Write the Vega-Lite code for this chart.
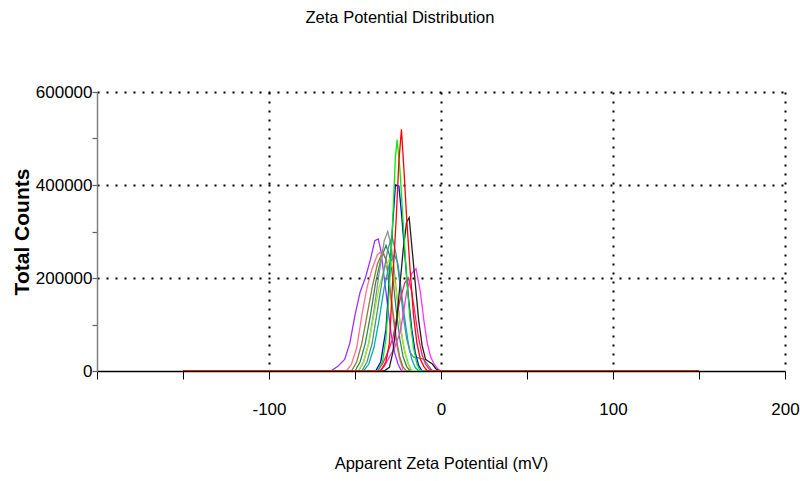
{
  "$schema": "https://vega.github.io/schema/vega-lite/v6.json",
  "width": 688,
  "height": 279,
  "autosize": {"type": "none"},
  "padding": {"left": 97, "top": 92, "right": 15, "bottom": 110},
  "background": "white",
  "title": {"text": "Zeta Potential Distribution", "font": "Liberation Sans", "fontSize": 16.5, "fontWeight": "normal", "color": "#000", "offset": 57, "anchor": "middle", "dx": -41},
  "config": {"view": {"stroke": null}},
  "data": {"values": [
    {"s":"violet","x":-150,"y":0},{"s":"violet","x":-64,"y":0},{"s":"violet","x":-60,"y":10000},{"s":"violet","x":-56,"y":25000},{"s":"violet","x":-53,"y":60000},{"s":"violet","x":-50,"y":120000},{"s":"violet","x":-47,"y":170000},{"s":"violet","x":-44,"y":200000},{"s":"violet","x":-41,"y":240000},{"s":"violet","x":-38.5,"y":280000},{"s":"violet","x":-36.5,"y":284000},{"s":"violet","x":-35,"y":260000},{"s":"violet","x":-33,"y":200000},{"s":"violet","x":-31,"y":140000},{"s":"violet","x":-29,"y":80000},{"s":"violet","x":-27,"y":40000},{"s":"violet","x":-25,"y":15000},{"s":"violet","x":-23,"y":0},{"s":"violet","x":150,"y":0},
    {"s":"salmon","x":-150,"y":0},{"s":"salmon","x":-55,"y":0},{"s":"salmon","x":-52,"y":15000},{"s":"salmon","x":-49,"y":50000},{"s":"salmon","x":-46,"y":120000},{"s":"salmon","x":-43,"y":180000},{"s":"salmon","x":-40,"y":220000},{"s":"salmon","x":-37,"y":250000},{"s":"salmon","x":-34,"y":260000},{"s":"salmon","x":-32,"y":240000},{"s":"salmon","x":-30,"y":180000},{"s":"salmon","x":-28,"y":120000},{"s":"salmon","x":-26,"y":60000},{"s":"salmon","x":-24,"y":25000},{"s":"salmon","x":-22,"y":0},{"s":"salmon","x":150,"y":0},
    {"s":"darkgreen","x":-150,"y":0},{"s":"darkgreen","x":-50,"y":0},{"s":"darkgreen","x":-47,"y":20000},{"s":"darkgreen","x":-44,"y":60000},{"s":"darkgreen","x":-41,"y":120000},{"s":"darkgreen","x":-38,"y":190000},{"s":"darkgreen","x":-35,"y":240000},{"s":"darkgreen","x":-32,"y":270000},{"s":"darkgreen","x":-30,"y":250000},{"s":"darkgreen","x":-28,"y":200000},{"s":"darkgreen","x":-26,"y":130000},{"s":"darkgreen","x":-24,"y":70000},{"s":"darkgreen","x":-22,"y":30000},{"s":"darkgreen","x":-20,"y":10000},{"s":"darkgreen","x":-18,"y":0},{"s":"darkgreen","x":150,"y":0},
    {"s":"olive","x":-150,"y":0},{"s":"olive","x":-52,"y":0},{"s":"olive","x":-49,"y":20000},{"s":"olive","x":-46,"y":60000},{"s":"olive","x":-43,"y":120000},{"s":"olive","x":-40,"y":180000},{"s":"olive","x":-37,"y":230000},{"s":"olive","x":-34,"y":255000},{"s":"olive","x":-32,"y":240000},{"s":"olive","x":-30,"y":190000},{"s":"olive","x":-28,"y":130000},{"s":"olive","x":-26,"y":70000},{"s":"olive","x":-24,"y":30000},{"s":"olive","x":-22,"y":8000},{"s":"olive","x":-20,"y":0},{"s":"olive","x":150,"y":0},
    {"s":"grey","x":-150,"y":0},{"s":"grey","x":-48,"y":0},{"s":"grey","x":-45,"y":20000},{"s":"grey","x":-42,"y":60000},{"s":"grey","x":-39,"y":130000},{"s":"grey","x":-36,"y":210000},{"s":"grey","x":-33,"y":280000},{"s":"grey","x":-31,"y":300000},{"s":"grey","x":-29,"y":270000},{"s":"grey","x":-27,"y":210000},{"s":"grey","x":-25,"y":140000},{"s":"grey","x":-23,"y":80000},{"s":"grey","x":-21,"y":40000},{"s":"grey","x":-19,"y":15000},{"s":"grey","x":-17,"y":0},{"s":"grey","x":150,"y":0},
    {"s":"yellowgreen","x":-150,"y":0},{"s":"yellowgreen","x":-48,"y":0},{"s":"yellowgreen","x":-45,"y":20000},{"s":"yellowgreen","x":-42,"y":60000},{"s":"yellowgreen","x":-39,"y":120000},{"s":"yellowgreen","x":-36,"y":180000},{"s":"yellowgreen","x":-33,"y":220000},{"s":"yellowgreen","x":-30,"y":240000},{"s":"yellowgreen","x":-28,"y":220000},{"s":"yellowgreen","x":-26,"y":170000},{"s":"yellowgreen","x":-24,"y":110000},{"s":"yellowgreen","x":-22,"y":60000},{"s":"yellowgreen","x":-20,"y":25000},{"s":"yellowgreen","x":-18,"y":5000},{"s":"yellowgreen","x":-16,"y":0},{"s":"yellowgreen","x":150,"y":0},
    {"s":"cyan","x":-150,"y":0},{"s":"cyan","x":-45,"y":0},{"s":"cyan","x":-42,"y":15000},{"s":"cyan","x":-39,"y":50000},{"s":"cyan","x":-36,"y":110000},{"s":"cyan","x":-33,"y":180000},{"s":"cyan","x":-30,"y":230000},{"s":"cyan","x":-27,"y":250000},{"s":"cyan","x":-25,"y":230000},{"s":"cyan","x":-23,"y":170000},{"s":"cyan","x":-21,"y":110000},{"s":"cyan","x":-19,"y":60000},{"s":"cyan","x":-17,"y":25000},{"s":"cyan","x":-15,"y":8000},{"s":"cyan","x":-13,"y":0},{"s":"cyan","x":150,"y":0},
    {"s":"slate","x":-150,"y":0},{"s":"slate","x":-46,"y":0},{"s":"slate","x":-43,"y":20000},{"s":"slate","x":-40,"y":60000},{"s":"slate","x":-37,"y":130000},{"s":"slate","x":-34,"y":200000},{"s":"slate","x":-31,"y":260000},{"s":"slate","x":-28.5,"y":290000},{"s":"slate","x":-26,"y":250000},{"s":"slate","x":-24,"y":190000},{"s":"slate","x":-22,"y":120000},{"s":"slate","x":-20,"y":70000},{"s":"slate","x":-18,"y":40000},{"s":"slate","x":-16,"y":30000},{"s":"slate","x":-13,"y":28000},{"s":"slate","x":-10,"y":25000},{"s":"slate","x":-7,"y":10000},{"s":"slate","x":-5,"y":0},{"s":"slate","x":150,"y":0},
    {"s":"blue","x":-150,"y":0},{"s":"blue","x":-38,"y":0},{"s":"blue","x":-35,"y":20000},{"s":"blue","x":-32,"y":90000},{"s":"blue","x":-30,"y":200000},{"s":"blue","x":-28,"y":320000},{"s":"blue","x":-26.5,"y":400000},{"s":"blue","x":-24.5,"y":398000},{"s":"blue","x":-23,"y":340000},{"s":"blue","x":-21,"y":250000},{"s":"blue","x":-19,"y":160000},{"s":"blue","x":-17,"y":90000},{"s":"blue","x":-15,"y":40000},{"s":"blue","x":-13,"y":12000},{"s":"blue","x":-11,"y":0},{"s":"blue","x":150,"y":0},
    {"s":"crimson","x":-150,"y":0},{"s":"crimson","x":-37,"y":0},{"s":"crimson","x":-34,"y":15000},{"s":"crimson","x":-31,"y":40000},{"s":"crimson","x":-28,"y":70000},{"s":"crimson","x":-26,"y":110000},{"s":"crimson","x":-24,"y":150000},{"s":"crimson","x":-21,"y":190000},{"s":"crimson","x":-19,"y":200000},{"s":"crimson","x":-17,"y":170000},{"s":"crimson","x":-15,"y":120000},{"s":"crimson","x":-13,"y":70000},{"s":"crimson","x":-11,"y":35000},{"s":"crimson","x":-9,"y":15000},{"s":"crimson","x":-7,"y":5000},{"s":"crimson","x":-5,"y":0},{"s":"crimson","x":150,"y":0},
    {"s":"magenta","x":-150,"y":0},{"s":"magenta","x":-36,"y":0},{"s":"magenta","x":-33,"y":10000},{"s":"magenta","x":-30,"y":30000},{"s":"magenta","x":-27,"y":50000},{"s":"magenta","x":-24,"y":80000},{"s":"magenta","x":-22,"y":120000},{"s":"magenta","x":-20,"y":170000},{"s":"magenta","x":-17,"y":210000},{"s":"magenta","x":-14.5,"y":220000},{"s":"magenta","x":-12,"y":170000},{"s":"magenta","x":-10,"y":110000},{"s":"magenta","x":-8,"y":60000},{"s":"magenta","x":-6,"y":30000},{"s":"magenta","x":-4,"y":15000},{"s":"magenta","x":-2,"y":5000},{"s":"magenta","x":0,"y":0},{"s":"magenta","x":150,"y":0},
    {"s":"black","x":-150,"y":0},{"s":"black","x":-33,"y":0},{"s":"black","x":-30,"y":8000},{"s":"black","x":-28,"y":40000},{"s":"black","x":-26,"y":100000},{"s":"black","x":-24,"y":180000},{"s":"black","x":-22,"y":260000},{"s":"black","x":-20,"y":320000},{"s":"black","x":-18.5,"y":330000},{"s":"black","x":-17,"y":270000},{"s":"black","x":-15,"y":190000},{"s":"black","x":-13,"y":110000},{"s":"black","x":-11,"y":55000},{"s":"black","x":-9,"y":25000},{"s":"black","x":-7,"y":20000},{"s":"black","x":-5,"y":15000},{"s":"black","x":-3,"y":5000},{"s":"black","x":-1,"y":0},{"s":"black","x":150,"y":0},
    {"s":"green","x":-150,"y":0},{"s":"green","x":-37,"y":0},{"s":"green","x":-34,"y":20000},{"s":"green","x":-32,"y":70000},{"s":"green","x":-30,"y":180000},{"s":"green","x":-28,"y":330000},{"s":"green","x":-26.5,"y":460000},{"s":"green","x":-25.5,"y":497000},{"s":"green","x":-24,"y":440000},{"s":"green","x":-22,"y":320000},{"s":"green","x":-20,"y":200000},{"s":"green","x":-18,"y":110000},{"s":"green","x":-16,"y":50000},{"s":"green","x":-14,"y":15000},{"s":"green","x":-12,"y":0},{"s":"green","x":150,"y":0},
    {"s":"red","x":-150,"y":0},{"s":"red","x":-35,"y":0},{"s":"red","x":-32,"y":20000},{"s":"red","x":-30,"y":60000},{"s":"red","x":-28,"y":200000},{"s":"red","x":-26,"y":330000},{"s":"red","x":-24.5,"y":450000},{"s":"red","x":-23,"y":520000},{"s":"red","x":-21.5,"y":430000},{"s":"red","x":-20,"y":330000},{"s":"red","x":-18,"y":220000},{"s":"red","x":-16,"y":120000},{"s":"red","x":-14,"y":60000},{"s":"red","x":-12,"y":25000},{"s":"red","x":-10,"y":10000},{"s":"red","x":-8,"y":0},{"s":"red","x":150,"y":0}
  ]},
  "mark": {"type": "line", "strokeWidth": 1.3, "clip": true},
  "encoding": {
    "x": {
      "field": "x", "type": "quantitative",
      "scale": {"domain": [-200, 200], "nice": false, "zero": false},
      "axis": {
        "title": "Apparent Zeta Potential (mV)",
        "titleFont": "Liberation Sans", "titleFontSize": 16.5, "titleFontWeight": "normal", "titleColor": "#000", "titlePadding": 38,
        "values": [-200, -150, -100, -50, 0, 50, 100, 150, 200],
        "labelExpr": "(datum.value % 100 === 0 && datum.value > -200) ? replace(datum.label, '−', '-') : ''",
        "format": "d",
        "labelFont": "Liberation Sans", "labelFontSize": 17, "labelColor": "#000", "labelPadding": 22, "labelFlush": false, "labelOverlap": false,
        "domainColor": "#000", "domainWidth": 1.5,
        "tickColor": "#000", "tickSize": 8, "tickWidth": 1,
        "grid": true, "gridColor": "#000", "gridWidth": 2, "gridDash": [2, 7],
        "gridOpacity": {"condition": {"test": "datum.value % 100 === 0 && datum.value > -200", "value": 1}, "value": 0}
      }
    },
    "y": {
      "field": "y", "type": "quantitative",
      "scale": {"domain": [0, 600000], "nice": false},
      "axis": {
        "title": "Total Counts",
        "titleFont": "Liberation Sans", "titleFontSize": 21, "titleFontWeight": "bold", "titleColor": "#000", "titlePadding": 3,
        "values": [0, 100000, 200000, 300000, 400000, 500000, 600000],
        "labelExpr": "datum.value % 200000 === 0 ? datum.label : ''",
        "format": "d",
        "labelFont": "Liberation Sans", "labelFontSize": 17, "labelColor": "#000", "labelPadding": 0, "labelFlush": false, "labelOverlap": false,
        "domainColor": "#808080", "domainWidth": 1.5,
        "tickColor": "#606060", "tickSize": 5, "tickWidth": 1.2,
        "grid": true, "gridColor": "#000", "gridWidth": 2, "gridDash": [2, 7],
        "gridOpacity": {"condition": {"test": "datum.value % 200000 === 0 && datum.value > 0", "value": 1}, "value": 0}
      }
    },
    "color": {
      "field": "s", "type": "nominal", "legend": null,
      "sort": ["violet","salmon","darkgreen","olive","grey","yellowgreen","cyan","slate","blue","crimson","magenta","black","green","red"],
      "scale": {
        "domain": ["violet","salmon","darkgreen","olive","grey","yellowgreen","cyan","slate","blue","crimson","magenta","black","green","red"],
        "range": ["#9933ff","#ff7090","#2e8b57","#8b7d3a","#909090","#99ee22","#00b0b0","#4f8f8f","#0000ff","#ff1f6f","#ff33ff","#202020","#00ee00","#ff0000"]
      }
    }
  }
}
